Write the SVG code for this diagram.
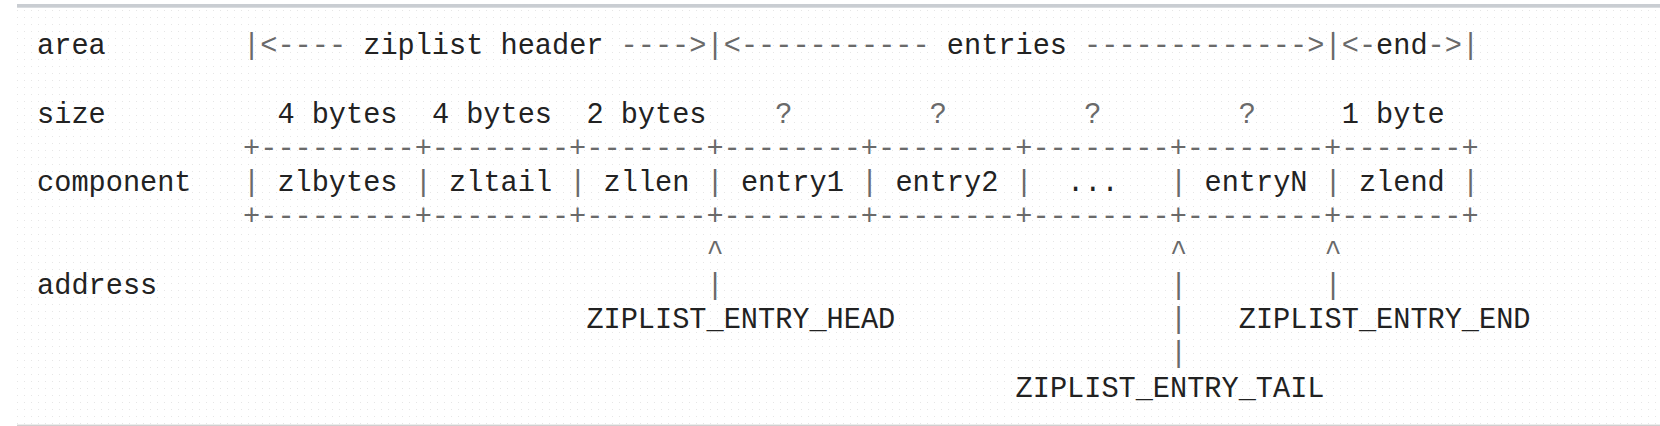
<svg xmlns="http://www.w3.org/2000/svg" width="1660" height="426" viewBox="0 0 1660 426">
<defs>
<pattern id="dots" x="0" y="0" width="7" height="7" patternUnits="userSpaceOnUse">
<rect x="3" y="3" width="1" height="1" fill="#e6e6e6"/>
</pattern>
</defs>
<style>
text{font-family:"Liberation Mono","Courier New",monospace;font-size:28.6px;white-space:pre}
.t{fill:#222222}
.p{fill:#6a6a6a}
</style>
<rect x="0" y="0" width="1660" height="426" fill="#ffffff"/>
<rect x="17" y="8" width="1643" height="416" fill="url(#dots)"/>
<rect x="17" y="4" width="1643" height="3.7" fill="#c9cdd2"/>
<rect x="17" y="424.6" width="1643" height="1.4" fill="#d0d0d0"/>

<g id="row-labels">
<text class="t" x="37.1" y="54">area</text>
<text class="t" x="37.1" y="122.5">size</text>
<text class="t" x="37.1" y="191">component</text>
<text class="t" x="37.1" y="293.75">address</text>
</g>

<g id="area-row">
<g id="area-header"><text x="243.1" y="54" xml:space="preserve"><tspan class="p">|&lt;----</tspan><tspan class="t"> ziplist header </tspan><tspan class="p">----&gt;</tspan></text></g>
<g id="area-entries"><text x="706.6" y="54" xml:space="preserve"><tspan class="p">|&lt;-----------</tspan><tspan class="t"> entries </tspan><tspan class="p">-------------&gt;</tspan></text></g>
<g id="area-end"><text x="1324.6" y="54" xml:space="preserve"><tspan class="p">|&lt;-</tspan><tspan class="t">end</tspan><tspan class="p">-&gt;|</tspan></text></g>
</g>

<g id="size-row">
<text class="t" x="277.4" y="122.5">4 bytes</text>
<text class="t" x="431.9" y="122.5">4 bytes</text>
<text class="t" x="586.4" y="122.5">2 bytes</text>
<text class="p" x="775.3" y="122.5">?</text>
<text class="p" x="929.8" y="122.5">?</text>
<text class="p" x="1084.3" y="122.5">?</text>
<text class="p" x="1238.8" y="122.5">?</text>
<text class="t" x="1341.8" y="122.5">1 byte</text>
</g>

<g id="table-frame">
<text class="p" x="243.1" y="156.75">+---------+--------+-------+--------+--------+--------+--------+-------+</text>
<text class="p" x="243.1" y="225.25">+---------+--------+-------+--------+--------+--------+--------+-------+</text>
<text class="p" x="243.1" y="191">|</text>
<text class="p" x="414.8" y="191">|</text>
<text class="p" x="569.3" y="191">|</text>
<text class="p" x="706.6" y="191">|</text>
<text class="p" x="861.1" y="191">|</text>
<text class="p" x="1015.6" y="191">|</text>
<text class="p" x="1170.1" y="191">|</text>
<text class="p" x="1324.6" y="191">|</text>
<text class="p" x="1461.9" y="191">|</text>
</g>

<g id="cell-zlbytes"><text class="t" x="277.4" y="191">zlbytes</text></g>
<g id="cell-zltail"><text class="t" x="449.1" y="191">zltail</text></g>
<g id="cell-zllen"><text class="t" x="603.6" y="191">zllen</text></g>
<g id="cell-entry1"><text class="t" x="740.9" y="191">entry1</text></g>
<g id="cell-entry2"><text class="t" x="895.4" y="191">entry2</text></g>
<g id="cell-ellipsis"><text class="t" x="1067.1" y="191">...</text></g>
<g id="cell-entryN"><text class="t" x="1204.5" y="191">entryN</text></g>
<g id="cell-zlend"><text class="t" x="1358.96" y="191">zlend</text></g>

<g id="connectors">
<text class="p" x="706.6" y="259.5">^</text>
<text class="p" x="1170.1" y="259.5">^</text>
<text class="p" x="1324.6" y="259.5">^</text>
<text class="p" x="706.6" y="293.75">|</text>
<text class="p" x="1170.1" y="293.75">|</text>
<text class="p" x="1324.6" y="293.75">|</text>
<text class="p" x="1170.1" y="328">|</text>
<text class="p" x="1170.1" y="362.25">|</text>
</g>

<g id="ptr-head"><text class="t" x="586.4" y="328">ZIPLIST_ENTRY_HEAD</text></g>
<g id="ptr-end"><text class="t" x="1238.8" y="328">ZIPLIST_ENTRY_END</text></g>
<g id="ptr-tail"><text class="t" x="1015.6" y="396.5">ZIPLIST_ENTRY_TAIL</text></g>
</svg>
